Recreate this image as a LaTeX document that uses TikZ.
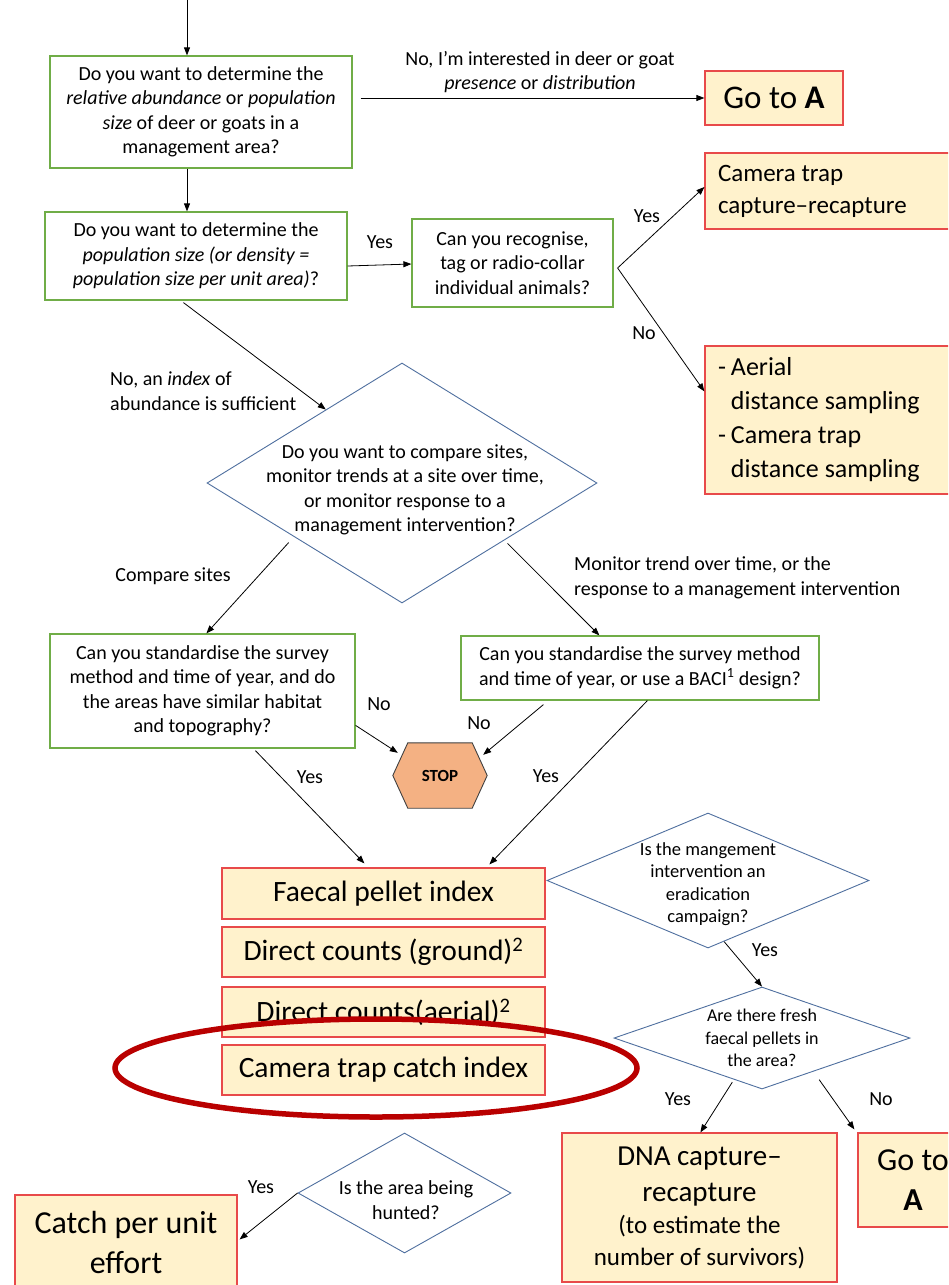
\documentclass[tikz,border=0pt]{standalone}
\usepackage{fontspec}
\setmainfont{Carlito}
\usetikzlibrary{arrows.meta,calc,shapes.geometric}

\definecolor{qgreen}{HTML}{70AD47}
\definecolor{rred}{HTML}{E84A4A}
\definecolor{rfill}{HTML}{FFF2CC}
\definecolor{dblue}{HTML}{4F6F9F}
\definecolor{stopfill}{HTML}{F4B183}
\definecolor{ringred}{HTML}{B90000}

\tikzset{
	qbox/.style={draw=qgreen, line width=1.2pt, fill=white, align=center, inner sep=0pt, font=\fontsize{20}{24.5}\selectfont},
	resbox/.style={draw=rred, line width=1.2pt, fill=rfill, align=center, inner sep=0pt},
	qdiam/.style={draw=dblue, line width=0.9pt, fill=white, diamond, inner sep=0pt},
	dtext/.style={align=center, inner sep=0pt},
	lbl/.style={inner sep=0pt, align=center, font=\fontsize{20}{24.5}\selectfont},
	arr/.style={-{Triangle[length=8pt,width=6pt]}, line width=0.8pt},
}

\begin{document}
\begin{tikzpicture}[x=1pt, y=-1pt]

	\path[use as bounding box] (0,0) rectangle (948,1285);
	\clip (0,0) rectangle (948,1285);

	% questions, top part
	\node[qbox, minimum width=302pt, minimum height=112pt] (q1) at (201,112) {Do you want to determine the\\ \textit{relative abundance} or \textit{population}\\ \textit{size} of deer or goats in a\\ management area?};
	\node[qbox, minimum width=302pt, minimum height=88pt] (q2) at (196,256) {Do you want to determine the\\ \textit{population size (or density =}\\ \textit{population size per unit area)}?};
	\node[qbox, minimum width=201pt, minimum height=88pt] (q3) at (512.5,263) {Can you recognise,\\ tag or radio-collar\\ individual animals?};

	\node[resbox, minimum width=138pt, minimum height=54pt, font=\fontsize{33}{40}\selectfont] (goa) at (774,98) {Go to \textbf{A}};
	\node[resbox, minimum height=76pt, text width=249pt, inner xsep=13pt, align=flush left, font=\fontsize{25}{32}\selectfont] (ctcr) at (842.5,191) {Camera trap\\ capture–recapture};
	\node[resbox, minimum height=148pt, text width=249pt, inner xsep=13pt, align=flush left, font=\fontsize{26}{34}\selectfont] (aerial) at (842.5,420) {\begin{tabular}{@{}l@{\hspace{5pt}}l@{}}- & Aerial\\ & distance sampling\\ - & Camera trap\\ & distance sampling\end{tabular}};

	% index branch
	\node[qdiam, minimum width=390pt, minimum height=240pt] (d1) at (402,483) {};
	\node[dtext, font=\fontsize{20}{24.5}\selectfont] (d1txt) at (405,490) {Do you want to compare sites,\\ monitor trends at a site over time,\\ or monitor response to a\\ management intervention?};

	\node[qbox, minimum width=305pt, minimum height=114pt] (q4) at (202.5,691) {Can you standardise the survey\\ method and time of year, and do\\ the areas have similar habitat\\ and topography?};
	\node[qbox, minimum width=358pt, minimum height=64pt] (q5) at (640,668) {Can you standardise the survey method\\ and time of year, or use a BACI\textsuperscript{1} design?};

	\node[minimum width=94pt, minimum height=65pt, inner sep=0pt] (stop) at (440,775.5) {};
	\draw[fill=stopfill, draw=black!75, line width=0.9pt] ([xshift=15pt]stop.north west) -- ([xshift=-15pt]stop.north east) -- (stop.east) -- ([xshift=-15pt]stop.south east) -- ([xshift=15pt]stop.south west) -- (stop.west) -- cycle;
	\node[inner sep=0pt, font=\bfseries\fontsize{17}{20}\selectfont] (stoptxt) at (stop) {STOP};

	% methods
	\node[resbox, minimum width=323pt, minimum height=51pt, font=\fontsize{29.5}{34}\selectfont] (faecal) at (383.5,893.5) {Faecal pellet index};
	\node[resbox, minimum width=323pt, minimum height=50pt, font=\fontsize{29.5}{34}\selectfont] (ground) at (383.5,952) {Direct counts (ground)\textsuperscript{2}};
	\node[resbox, minimum width=323pt, minimum height=50pt, font=\fontsize{29.5}{34}\selectfont] (aircnt) at (383.5,1012) {Direct counts(aerial)\textsuperscript{2}};
	\node[resbox, minimum width=323pt, minimum height=50pt, font=\fontsize{29.5}{34}\selectfont] (camidx) at (383.5,1070) {Camera trap catch index};

	% eradication
	\node[qdiam, minimum width=322pt, minimum height=135pt] (d2) at (708,880.5) {};
	\node[dtext, font=\fontsize{18.5}{22.5}\selectfont] (d2txt) at (708,884) {Is the mangement\\ intervention an\\ eradication\\ campaign?};
	\node[qdiam, minimum width=296pt, minimum height=102pt] (d3) at (762,1038) {};
	\node[dtext, font=\fontsize{18}{22.5}\selectfont] (d3txt) at (762,1038) {Are there fresh\\ faecal pellets in\\ the area?};

	\node[resbox, minimum width=275pt, minimum height=149pt, text width=255pt, inner xsep=10pt, align=flush center] (dna) at (699.5,1207.5) {{\fontsize{29}{36}\selectfont DNA capture–\\ recapture\par}{\fontsize{25}{32}\selectfont (to estimate the\\ number of survivors)\par}};
	\node[resbox, minimum width=110pt, minimum height=94pt, font=\fontsize{32}{40}\selectfont] (goa2) at (913,1180) {Go to\\ \textbf{A}};

	\node[qdiam, minimum width=213pt, minimum height=120pt] (d4) at (404.5,1193) {};
	\node[dtext, font=\fontsize{20}{25}\selectfont] (d4txt) at (406,1200) {Is the area being\\ hunted?};
	\node[resbox, minimum width=222pt, minimum height=95pt, font=\fontsize{32}{40}\selectfont] (catch) at (126,1242.5) {Catch per unit\\ effort};

	% connectors
	\coordinate (entry) at (187,0);
	\draw[arr] (entry) -- (entry |- q1.north);
	\draw[arr] ($(q1.east |- goa.west)+(8,0)$) -- (goa.west);
	\draw[arr] (q1.south -| entry) -- (q2.north -| entry);
	\draw[arr] ($(q2.east)+(0,10)$) -- ($(q3.west)+(0,1)$);

	\coordinate (q3fork) at ($(q3.east)+(4,5)$);
	\draw[arr] (q3fork) -- ($(ctcr.west)+(0,-4)$);
	\draw[arr] (q3fork) -- ($(aerial.north west)+(0,46)$);

	\draw[arr] ($(q2.south west)+(139,2)$) -- ($(d1.west)!0.61!(d1.north)$);
	\draw[arr] ($(d1.west)!0.42!(d1.south)+(0,9)$) -- ($(q4.north west)+(157,0)$);
	\draw[arr] ($(d1.south)!0.54!(d1.east)+(0,5)$) -- ($(q5.north west)+(139,0)$);

	\draw[arr] ($(q4.north east)+(0,92)$) -- ($(stop.north west)+(5,10)$);
	\draw[arr] ($(q5.south west)+(83,4)$) -- ($(stop.north east)+(-4,12)$);
	\draw[arr] ($(q4.south west)+(206,2)$) -- ($(faecal.north west)+(143,-4)$);
	\draw[arr] ($(q5.south west)+(187,0)$) -- ($(faecal.north west)+(268,-3)$);

	\draw[arr] ($(d2.south)!0.1!(d2.east)$) -- (d3.north);
	\draw[arr] ($(d3.south)!0.2!(d3.west)+(0,3)$) -- ($(dna.north west)+(139,0)$);
	\draw[arr] ($(d3.south)!0.385!(d3.east)+(0,10)$) -- ($(goa2.north west)+(-3,-3)$);
	\draw[arr] (d4.west) -- ($(catch.north east)+(2,45)$);

	% labels
	\node[lbl] (lpres) at (540,72) {No, I’m interested in deer or goat\\ \textit{presence} or \textit{distribution}};
	\node[lbl] (lyes1) at (380,242) {Yes};
	\node[lbl] (lyes2) at (647,216) {Yes};
	\node[lbl] (lno1) at (644,333) {No};
	\node[lbl, anchor=west, align=left] (lindex) at (110,391) {No, an \textit{index} of\\ abundance is sufficient};
	\node[lbl] (lcmp) at (173,576) {Compare sites};
	\node[lbl, anchor=west, align=left] (lmon) at (574,578) {Monitor trend over time, or the\\ response to a management intervention};
	\node[lbl] (lno2) at (379,704) {No};
	\node[lbl] (lno3) at (479,723) {No};
	\node[lbl] (lyes3) at (310,777) {Yes};
	\node[lbl] (lyes4) at (546,776) {Yes};
	\node[lbl] (lyes5) at (765,950) {Yes};
	\node[lbl] (lyes6) at (678,1099) {Yes};
	\node[lbl] (lno4) at (881,1099) {No};
	\node[lbl] (lyes7) at (261,1187) {Yes};

	% highlight
	\draw[ringred, line width=5.5pt] (376,1068) ellipse [x radius=261pt, y radius=49pt];

\end{tikzpicture}
\end{document}
